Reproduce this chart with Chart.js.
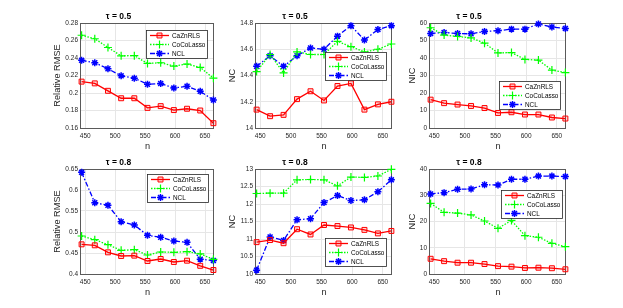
<!DOCTYPE html>
<html>
<head>
<meta charset="utf-8">
<script src="https://cdn.jsdelivr.net/npm/chart.js@4.4.1/dist/chart.umd.min.js"></script>
<style>
  html, body { margin: 0; padding: 0; background: #fff; }
  #fig { position: relative; width: 623px; height: 308px; overflow: hidden; background: #fff; }
  #fig canvas { position: absolute; }
</style>
</head>
<body>
<div id="fig"></div>
<script>
// x axis: sample size n
var nValues = [444, 466, 488, 510, 532, 554, 576, 598, 620, 642, 664];
var nTicks = [450, 500, 550, 600, 650];
var seriesNames = ["CaZnRLS", "CoCoLasso", "NCL"];

// tau = 0.5
var rmse05Ca = [0.213, 0.211, 0.2025, 0.194, 0.194, 0.183, 0.185, 0.1805, 0.182, 0.18, 0.1655];
var rmse05Co = [0.266, 0.262, 0.252, 0.2425, 0.2427, 0.2338, 0.2346, 0.2308, 0.2331, 0.2292, 0.217];
var rmse05Ncl = [0.2373, 0.2346, 0.2277, 0.2196, 0.2169, 0.21, 0.2108, 0.2058, 0.2077, 0.2019, 0.192];
var rmse05Ticks = [0.16, 0.18, 0.2, 0.22, 0.24, 0.26, 0.28];

var nc05Ca = [14.14, 14.09, 14.10, 14.22, 14.28, 14.21, 14.32, 14.34, 14.14, 14.18, 14.20];
var nc05Co = [14.43, 14.56, 14.42, 14.58, 14.56, 14.56, 14.66, 14.62, 14.58, 14.60, 14.64];
var nc05Ncl = [14.47, 14.55, 14.47, 14.55, 14.61, 14.60, 14.70, 14.78, 14.67, 14.75, 14.78];
var nc05Ticks = [14, 14.2, 14.4, 14.6, 14.8];

var nic05Ca = [16.2, 14.2, 13.4, 12.6, 11.4, 8.6, 9.0, 7.7, 7.7, 6.0, 5.4];
var nic05Co = [57.3, 53.1, 52.3, 51.5, 48.5, 42.9, 43.1, 39.2, 38.8, 33.1, 31.7];
var nic05Ncl = [54.0, 54.6, 54.0, 53.8, 55.2, 55.6, 56.5, 56.5, 59.4, 57.7, 56.9];
var nic05Ticks = [0, 10, 20, 30, 40, 50, 60];

// tau = 0.8
var rmse08Ca = [0.4706, 0.4683, 0.4516, 0.4429, 0.4437, 0.431, 0.4357, 0.4286, 0.4317, 0.4195, 0.4095];
var rmse08Co = [0.4905, 0.4817, 0.4698, 0.4563, 0.4579, 0.4452, 0.4524, 0.4516, 0.4532, 0.4478, 0.435];
var rmse08Ncl = [0.642, 0.5698, 0.5635, 0.5246, 0.5167, 0.492, 0.4873, 0.4786, 0.4754, 0.4353, 0.432];
var rmse08Ticks = [0.4, 0.45, 0.5, 0.55, 0.6, 0.65];

var nc08Ca = [10.91, 10.97, 10.88, 11.28, 11.13, 11.40, 11.37, 11.33, 11.26, 11.16, 11.23];
var nc08Co = [12.30, 12.31, 12.31, 12.69, 12.70, 12.69, 12.52, 12.77, 12.76, 12.80, 12.99];
var nc08Ncl = [10.11, 11.06, 10.96, 11.55, 11.58, 12.04, 12.24, 12.10, 12.12, 12.35, 12.69];
var nc08Ticks = [10, 10.5, 11, 11.5, 12, 12.5, 13];

var nic08Ca = [5.8, 4.9, 4.3, 4.3, 3.8, 3.0, 2.8, 2.3, 2.4, 2.2, 1.8];
var nic08Co = [26.9, 23.5, 23.2, 22.5, 20.2, 17.4, 20.4, 14.6, 14.0, 11.7, 10.4];
var nic08Ncl = [30.5, 31.0, 32.3, 32.4, 34.0, 33.9, 36.1, 36.1, 37.3, 37.3, 37.1];
var nic08Ticks = [0, 10, 20, 30, 40];

// layout of the axes boxes on the page
var colLeft = [81, 256, 430];
var colWidth = [133, 136, 136];
var rowTop = [23, 169];
var plotH = 105;
var padL = 58, padT = 20, padR = 8, padB = 28;

var FONT = "'Liberation Sans', Arial, Helvetica, sans-serif";
var TXT = "#262626";

var lineStyles = [
  { borderColor: "#ff0000", borderWidth: 1.3, pointStyle: "rect", pointRadius: 3.5,
    pointBorderWidth: 1, pointBackgroundColor: "rgba(255,0,0,0.15)", borderDash: [] },
  { borderColor: "#00ff00", borderWidth: 1.3, pointStyle: "cross", pointRadius: 4,
    pointBorderWidth: 1.2, pointBackgroundColor: "#00ff00", borderDash: [1.5, 1.5] },
  { borderColor: "#0000ff", borderWidth: 1.3, pointStyle: "star", pointRadius: 3.5,
    pointBorderWidth: 1.5, pointBackgroundColor: "#0000ff", borderDash: [5, 2, 1.5, 2] }
];

var panels = [
  { col: 0, row: 0, title: "τ = 0.5", yLabel: "Relative RMSE", series: [rmse05Ca, rmse05Co, rmse05Ncl], ticks: rmse05Ticks, legend: { x: 65, y: 7 }, yTitleGap: 23.5 },
  { col: 1, row: 0, title: "τ = 0.5", yLabel: "NC", series: [nc05Ca, nc05Co, nc05Ncl], ticks: nc05Ticks, legend: { x: 69, y: 29 }, yTitleGap: 24 },
  { col: 2, row: 0, title: "τ = 0.5", yLabel: "NIC", series: [nic05Ca, nic05Co, nic05Ncl], ticks: nic05Ticks, legend: { x: 69, y: 58 }, yTitleGap: 18 },
  { col: 0, row: 1, title: "τ = 0.8", yLabel: "Relative RMSE", series: [rmse08Ca, rmse08Co, rmse08Ncl], ticks: rmse08Ticks, legend: { x: 66, y: 5 }, yTitleGap: 24 },
  { col: 1, row: 1, title: "τ = 0.8", yLabel: "NC", series: [nc08Ca, nc08Co, nc08Ncl], ticks: nc08Ticks, legend: { x: 69, y: 69 }, yTitleGap: 24 },
  { col: 2, row: 1, title: "τ = 0.8", yLabel: "NIC", series: [nic08Ca, nic08Co, nic08Ncl], ticks: nic08Ticks, legend: { x: 71, y: 21 }, yTitleGap: 18 }
];

function drawMarker(ctx, style, x, y, r, color, lw, fill) {
  ctx.save();
  ctx.setLineDash([]);
  ctx.strokeStyle = color;
  ctx.lineWidth = lw;
  ctx.beginPath();
  if (style === "rect") {
    var s = r * Math.SQRT1_2;
    ctx.rect(x - s, y - s, 2 * s, 2 * s);
    ctx.fillStyle = fill;
    ctx.fill();
  } else if (style === "cross") {
    ctx.moveTo(x, y - r); ctx.lineTo(x, y + r);
    ctx.moveTo(x - r, y); ctx.lineTo(x + r, y);
  } else {
    var d = r * Math.SQRT1_2;
    ctx.moveTo(x, y - r); ctx.lineTo(x, y + r);
    ctx.moveTo(x - r, y); ctx.lineTo(x + r, y);
    ctx.moveTo(x - d, y - d); ctx.lineTo(x + d, y + d);
    ctx.moveTo(x - d, y + d); ctx.lineTo(x + d, y - d);
  }
  ctx.stroke();
  ctx.restore();
}

// full box round the plot area, like matlab's "box on"
var axesBox = {
  id: "axesBox",
  beforeDatasetsDraw: function (chart) {
    var a = chart.chartArea, ctx = chart.ctx;
    ctx.save();
    ctx.strokeStyle = "#5a5a5a";
    ctx.lineWidth = 1;
    ctx.strokeRect(Math.round(a.left) - 0.5, Math.round(a.top) + 0.5, Math.round(a.right - a.left), Math.round(a.bottom - a.top));
    ctx.restore();
  }
};

// legend drawn inside the plot area
var boxLegend = {
  id: "boxLegend",
  afterDraw: function (chart) {
    var o = chart.options.plugins.boxLegend;
    if (!o) return;
    var ctx = chart.ctx, a = chart.chartArea;
    var x0 = Math.round(a.left + o.x), y0 = Math.round(a.top + o.y), w = 61, h = 28;
    ctx.save();
    ctx.fillStyle = "#fff";
    ctx.fillRect(x0, y0, w, h);
    ctx.strokeStyle = "#262626";
    ctx.lineWidth = 0.8;
    ctx.strokeRect(x0 + 0.5, y0 + 0.5, w, h);
    chart.data.datasets.forEach(function (ds, i) {
      var y = y0 + 5.5 + i * 9;
      ctx.strokeStyle = ds.borderColor;
      ctx.lineWidth = ds.borderWidth;
      ctx.setLineDash(ds.borderDash);
      ctx.beginPath();
      ctx.moveTo(x0 + 4, y);
      ctx.lineTo(x0 + 23, y);
      ctx.stroke();
      drawMarker(ctx, ds.pointStyle, x0 + 13.5, y, ds.pointRadius, ds.borderColor, ds.pointBorderWidth, ds.pointBackgroundColor);
      ctx.setLineDash([]);
      ctx.fillStyle = "#000";
      ctx.font = "6.4px " + FONT;
      ctx.textBaseline = "middle";
      ctx.fillText(ds.label, x0 + 26, y + 0.5);
    });
    ctx.restore();
  }
};

var fig = document.getElementById("fig");

panels.forEach(function (p) {
  var plotW = colWidth[p.col];
  var cv = document.createElement("canvas");
  cv.width = padL + plotW + padR;
  cv.height = padT + plotH + padB;
  cv.style.left = (colLeft[p.col] - padL) + "px";
  cv.style.top = (rowTop[p.row] - padT) + "px";
  cv.style.width = cv.width + "px";
  cv.style.height = cv.height + "px";
  fig.appendChild(cv);

  var datasets = p.series.map(function (vals, i) {
    var st = lineStyles[i];
    return Object.assign({
      label: seriesNames[i],
      data: nValues.map(function (n, k) { return { x: n, y: vals[k] }; }),
      pointBorderColor: st.borderColor,
      pointHoverRadius: st.pointRadius,
      tension: 0,
      fill: false,
      clip: false
    }, st);
  });

  var yTicks = p.ticks;

  new Chart(cv.getContext("2d"), {
    type: "line",
    data: { datasets: datasets },
    options: {
      responsive: false,
      animation: false,
      devicePixelRatio: 1,
      events: [],
      layout: { padding: { left: 0, right: padR, top: 0, bottom: 0 }, autoPadding: false },
      plugins: {
        legend: { display: false },
        tooltip: { enabled: false },
        title: {
          display: true,
          text: p.title,
          color: "#000",
          font: { family: FONT, size: 8.5, weight: "bold", lineHeight: 1.2 },
          padding: { top: 9, bottom: 0.8 }
        },
        boxLegend: p.legend
      },
      scales: {
        x: {
          type: "linear",
          min: 443,
          max: 665,
          afterBuildTicks: function (s) { s.ticks = nTicks.map(function (v) { return { value: v }; }); },
          afterFit: function (s) { s.height = padB; },
          grid: { color: "#e6e6e6", drawTicks: false },
          border: { display: false },
          ticks: { color: TXT, font: { family: FONT, size: 6.5 }, padding: 4, maxRotation: 0, autoSkip: false },
          title: { display: true, text: "n", color: TXT, font: { family: FONT, size: 9.2, lineHeight: 1.2 }, padding: { top: 0, bottom: 3.8 } }
        },
        y: {
          type: "linear",
          min: yTicks[0],
          max: yTicks[yTicks.length - 1],
          afterBuildTicks: function (s) { s.ticks = yTicks.map(function (v) { return { value: v }; }); },
          afterFit: function (s) { s.width = padL; },
          grid: { color: "#e6e6e6", drawTicks: false },
          border: { display: false },
          ticks: {
            color: TXT, font: { family: FONT, size: 6.5 }, padding: 3, autoSkip: false,
            callback: function (v) { return String(+v.toFixed(2)); }
          },
          title: { display: true, text: p.yLabel, color: TXT, font: { family: FONT, size: 9.2, lineHeight: 1.2 }, padding: { top: padL - p.yTitleGap - 5.5, bottom: 0 } }
        }
      }
    },
    plugins: [axesBox, boxLegend]
  });
});
</script>
</body>
</html>
